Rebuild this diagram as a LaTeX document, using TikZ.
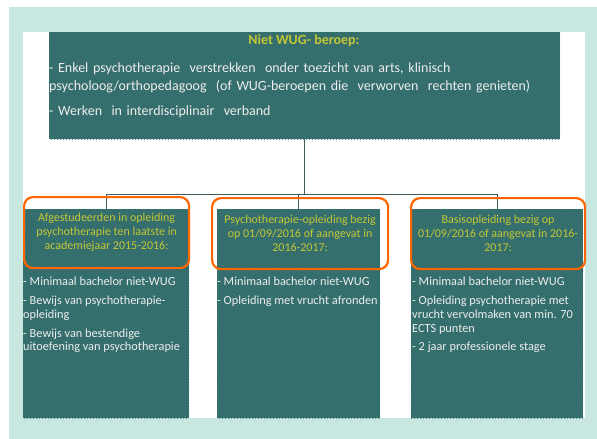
\documentclass[tikz,border=0pt]{standalone}
\usepackage{fontspec}
\setmainfont{Carlito}
\usepackage{xcolor}
\usetikzlibrary{patterns}
\definecolor{pagemint}{RGB}{201,231,225}
\definecolor{boxteal}{RGB}{47,106,105}
\definecolor{stripeteal}{RGB}{66,124,122}
\definecolor{headyellow}{RGB}{196,198,52}
\definecolor{hlorange}{RGB}{255,102,0}
\definecolor{wirecolor}{RGB}{62,92,92}
\tikzset{
    box/.style = {anchor=north west, inner sep=0pt, fill=boxteal,
        postaction={pattern=north west lines, pattern color=stripeteal}},
    highlight/.style = {anchor=north west, inner sep=0pt, draw=hlorange, line width=2.2pt,
        rounded corners=9pt},
    headtext/.style = {text=headyellow, align=center, font=\fontsize{12}{14.2}\selectfont},
    itemtext/.style = {anchor=north west, inner sep=1pt, text=white!93!black, align=left,
        font=\fontsize{12.3}{13.8}\selectfont},
    wire/.style = {draw=wirecolor, line width=0.8pt}
}

\begin{document}
\begin{tikzpicture}[x=1pt, y=-1pt]
        % page and frame
        \useasboundingbox (0, 0) rectangle (597, 439);
        \fill[pagemint] (9, 7) rectangle (597, 439);
        \fill[white] (23, 32) rectangle (585, 418);
        % boxes
        \node[box, minimum width=511pt, minimum height=107pt] (top) at (49, 32) {};
        \node[box, minimum width=166pt, minimum height=209pt] (left) at (23, 209) {};
        \node[box, minimum width=163pt, minimum height=209pt] (mid) at (217, 209) {};
        \node[box, minimum width=172pt, minimum height=209pt] (right) at (411, 209) {};
        % connectors
        \coordinate (bus) at (304, 194);
        \draw[wire] (top.south) -- (top.south |- bus);
        \draw[wire] (left.north |- bus) -- (right.north |- bus);
        \foreach \b in {left, mid, right}
            \draw[wire] (\b.north |- bus) -- (\b.north);
        % top text
        \node[text=headyellow, font=\fontsize{14}{16}\selectfont\bfseries] (title) at (304, 41) {Niet WUG- beroep:};
        \node[anchor=north west, inner sep=0pt, text width=508pt, text=white!93!black,
              font=\fontsize{14}{18}\selectfont, align=left] (toptext) at (49, 63)
            {- Enkel psychotherapie\ \ verstrekken\ \ onder toezicht van arts, klinisch\\
             psycholoog/orthopedagoog\ \ (of WUG-beroepen die\ \ verworven\ \ rechten genieten)\\[7pt]
             - Werken\ \ in interdisciplinair\ \ verband};
        % highlighted headings
        \node[highlight, minimum width=165pt, minimum height=71pt] (lefthead) at (23, 196) {};
        \node[highlight, minimum width=176pt, minimum height=71pt] (midhead) at (211, 197) {};
        \node[highlight, minimum width=174pt, minimum height=71pt] (righthead) at (410, 197) {};
        \node[headtext] at (lefthead.center) {Afgestudeerden in opleiding\\ psychotherapie ten laatste in\\ academiejaar 2015-2016:};
        \node[headtext] at (midhead.center) {Psychotherapie-opleiding bezig\\ op 01/09/2016 of aangevat in\\ 2016-2017:};
        \node[headtext] at (righthead.center) {Basisopleiding bezig op\\ 01/09/2016 of aangevat in 2016-\\ 2017:};
        % requirements
        \node[itemtext] (leftitems) at (22, 276)
            {- Minimaal bachelor niet-WUG\\[5pt]
             - Bewijs van psychotherapie-\\ opleiding\\[5pt]
             - Bewijs van bestendige\\ uitoefening van psychotherapie};
        \node[itemtext] (miditems) at (216, 276)
            {- Minimaal bachelor niet-WUG\\[5pt]
             - Opleiding met vrucht afronden};
        \node[itemtext] (rightitems) at (411, 276)
            {- Minimaal bachelor niet-WUG\\[5pt]
             - Opleiding psychotherapie met\\ vrucht vervolmaken van min. 70\\ ECTS punten\\[5pt]
             - 2 jaar professionele stage};
    \end{tikzpicture}
\end{document}
